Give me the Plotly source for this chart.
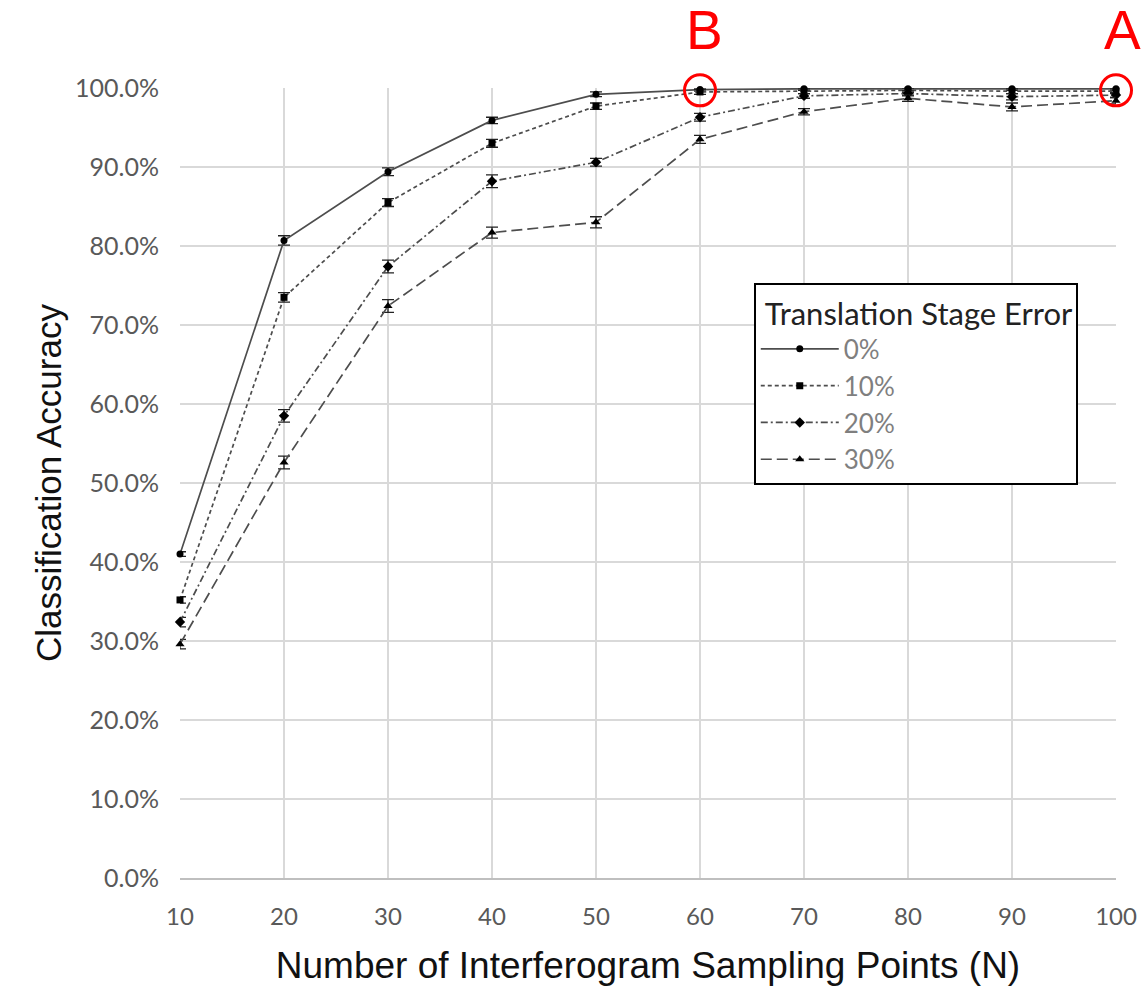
import plotly.graph_objects as go

# Sampling points along the interferogram
n_points = [10, 20, 30, 40, 50, 60, 70, 80, 90, 100]

# Classification accuracy (%) for each translation stage error level
acc_0 = [41.0, 80.7, 89.4, 95.9, 99.2, 99.8, 99.9, 99.9, 99.9, 99.9]
acc_10 = [35.2, 73.5, 85.5, 93.0, 97.7, 99.5, 99.6, 99.7, 99.6, 99.6]
acc_20 = [32.4, 58.5, 77.4, 88.2, 90.6, 96.3, 99.0, 99.3, 98.9, 99.1]
acc_30 = [29.6, 52.6, 72.4, 81.7, 83.0, 93.5, 97.0, 98.7, 97.6, 98.4]

# Standard error of each accuracy value (%)
err_0 = [0.3, 0.6, 0.5, 0.4, 0.3, 0.2, 0.2, 0.2, 0.2, 0.2]
err_10 = [0.4, 0.6, 0.5, 0.5, 0.4, 0.3, 0.3, 0.3, 0.3, 0.3]
err_20 = [0.6, 0.8, 0.8, 0.8, 0.5, 0.5, 0.3, 0.3, 0.4, 0.3]
err_30 = [0.6, 0.8, 0.8, 0.7, 0.7, 0.5, 0.4, 0.4, 0.5, 0.4]

series_names = ["0%", "10%", "20%", "30%"]
tick_vals = [0, 10, 20, 30, 40, 50, 60, 70, 80, 90, 100]
tick_text = [f"{v:.1f}%" for v in tick_vals]

# Highlighted operating points and their labels
mark_x = [60, 100]
mark_y = [99.7, 99.7]
mark_labels = ["B", "A"]

styles = [
    dict(dash="solid", symbol="circle", size=7),
    dict(dash="4px,3px", symbol="square", size=7),
    dict(dash="7px,3px,2px,3px", symbol="diamond", size=8),
    dict(dash="11px,5px", symbol="triangle-up", size=8),
]

fig = go.Figure()
for name, ys, es, st in zip(series_names, [acc_0, acc_10, acc_20, acc_30],
                            [err_0, err_10, err_20, err_30], styles):
    fig.add_trace(go.Scatter(
        x=n_points, y=ys, name=name, mode="lines+markers",
        line=dict(color="#4d4d4d", width=1.7, dash=st["dash"]),
        marker=dict(color="black", symbol=st["symbol"], size=st["size"]),
        error_y=dict(type="data", array=es, visible=True, color="#222222",
                     thickness=1.3, width=6),
        cliponaxis=False,
    ))

# Red rings around the highlighted points
fig.add_trace(go.Scatter(
    x=mark_x, y=mark_y, mode="markers", showlegend=False, hoverinfo="skip",
    marker=dict(symbol="circle-open", size=31,
                line=dict(color="#ff0000", width=3), color="#ff0000"),
    cliponaxis=False,
))

for hx, hy, label, dx in zip(mark_x, mark_y, mark_labels, [4, 6]):
    fig.add_annotation(x=hx, y=hy, xref="x", yref="y", text=label,
                       showarrow=False, yshift=60, xshift=dx,
                       font=dict(family="Liberation Sans, Arial", size=55,
                                 color="#ff0000"))

fig.update_layout(
    width=1146, height=988,
    margin=dict(l=180, r=30, t=88, b=110),
    paper_bgcolor="white", plot_bgcolor="white",
    font=dict(family="Lato, Calibri, sans-serif", color="#595959"),
    xaxis=dict(
        range=[10, 100], tickvals=n_points, showgrid=True, automargin=False,
        gridcolor="#d9d9d9", gridwidth=1.5, zeroline=False,
        showline=True, linecolor="#bfbfbf", linewidth=1.5,
        tickfont=dict(size=24, color="#595959"),
        ticklabelstandoff=16,
        title=dict(text="Number of Interferogram Sampling Points (N)",
                   font=dict(family="Liberation Sans, Arial", size=37,
                             color="#111111"),
                   standoff=24),
    ),
    yaxis=dict(
        range=[0, 100], tickvals=tick_vals, ticktext=tick_text,
        showgrid=True, gridcolor="#d9d9d9", gridwidth=1.5, zeroline=False,
        showline=False, automargin=False,
        tickfont=dict(size=25, color="#595959"),
        ticklabelstandoff=20,
        title=dict(text="Classification Accuracy",
                   font=dict(family="Liberation Sans, Arial", size=35,
                             color="#111111"),
                   standoff=2),
    ),
    legend=dict(
        x=0.613, y=0.753, xanchor="left", yanchor="top",
        bgcolor="white", bordercolor="black", borderwidth=2,
        title=dict(text=" Translation Stage Error",
                   font=dict(family="Lato, Calibri, sans-serif", size=31,
                             color="#222222")),
        font=dict(family="Lato, Calibri, sans-serif", size=26,
                  color="#7f7f7f"),
        tracegroupgap=0, itemwidth=78,
    ),
)

fig.write_html("out.html")
